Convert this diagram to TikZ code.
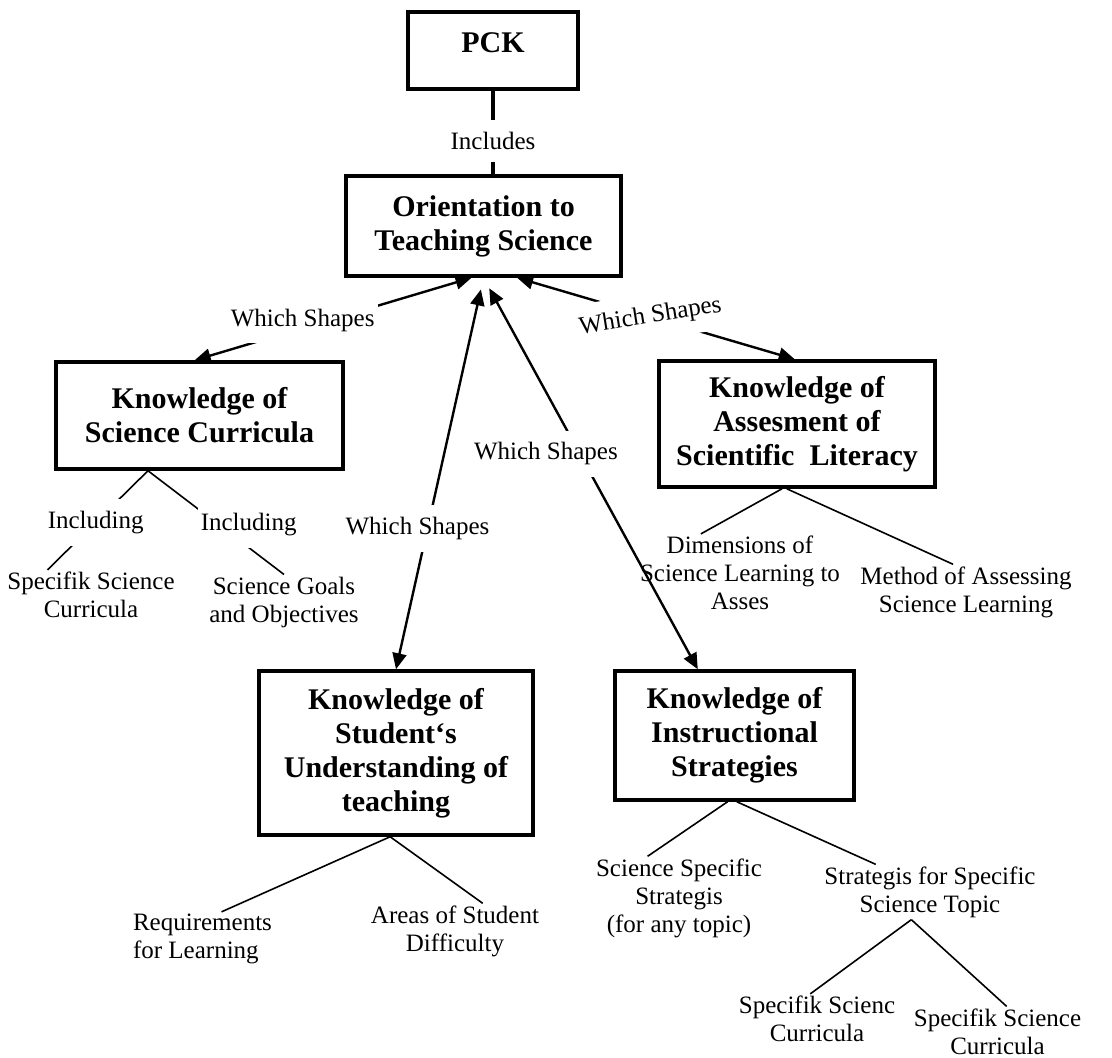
\documentclass[tikz,border=0pt]{standalone}
\usepackage{fontspec}
\setmainfont{Liberation Serif}
\usetikzlibrary{arrows.meta}

\begin{document}
\begin{tikzpicture}[
  x=1pt, y=-1pt,
  font=\fontsize{25}{28}\selectfont,
  concept/.style={
    rectangle, draw=black, line width=3.5pt, fill=white,
    font=\fontsize{30}{34}\selectfont\bfseries, align=center, inner sep=0pt
  },
  leaf/.style={align=center, inner sep=2pt},
  linklabel/.style={fill=white, inner xsep=3pt, inner ysep=12pt},
  shapelink/.style={
    {Triangle[length=16pt,width=14pt]}-{Triangle[length=16pt,width=14pt]},
    line width=2.4pt
  },
  branch/.style={line width=1.6pt},
]

\useasboundingbox (0,0) rectangle (1112,1058);

% Main concept boxes
\node[concept, minimum width=170pt, text height=40pt, text depth=37pt] (pck) at (493,50.5) {PCK};
\node[concept, minimum width=275pt, minimum height=100pt] (orient) at (483.5,226)
  {Orientation to\\Teaching Science};
\node[concept, minimum width=287pt, minimum height=107pt] (curric) at (199.5,415.5)
  {Knowledge of\\Science Curricula};
\node[concept, minimum width=276pt, minimum height=126pt] (assess) at (797,424)
  {Knowledge of\\Assesment of\\Scientific\ \ Literacy};
\node[concept, minimum width=274pt, minimum height=164pt] (student) at (396,753)
  {Knowledge of\\Student‘s\\Understanding of\\teaching};
\node[concept, minimum width=239pt, minimum height=129pt] (instr) at (734.5,735.5)
  {Knowledge of\\Instructional\\Strategies};

% Leaves
\node[leaf] (specA) at (91,595) {Specifik Science\\Curricula};
\node[leaf] (goals) at (284,602) {Science Goals\\and Objectives};
\node[leaf] (dims) at (740,573) {Dimensions of\\Science Learning to\\Asses};
\node[leaf] (method) at (966,592) {Method of Assessing\\Science Learning};
\node[leaf, align=left] (req) at (202.5,939) {Requirements\\for Learning};
\node[leaf] (areas) at (455,931) {Areas of Student\\Difficulty};
\node[leaf] (ssA) at (679,898) {Science Specific\\Strategis\\(for any topic)};
\node[leaf] (topic) at (930,892) {Strategis for Specific\\Science Topic};
\node[leaf] (scA) at (817,1019) {Specifik Scienc\\Curricula};
\node[leaf] (scB) at (997.5,1031.5) {Specifik Science\\Curricula};

% PCK includes the orientation
\draw[line width=3.5pt] (pck.south) -- node[linklabel, pos=0.6] {Includes} (pck.south |- orient.north);

% Which Shapes links
\draw[shapelink] (curric.95) -- node[linklabel, pos=0.39, yshift=8pt] {Which Shapes} (orient.-103);
\draw[shapelink] (orient.-57) -- node[linklabel, pos=0.48, rotate=9] {Which Shapes} (assess.92);
\draw[shapelink, shorten <=12pt] (orient.south) -- node[linklabel, pos=0.64, xshift=-10pt] {Which Shapes} (student.north);
\draw[shapelink, shorten <=12pt] (orient.south) -- node[linklabel, pos=0.45, xshift=-34pt] {Which Shapes} (instr.119);

% Branches to the leaves
\draw[branch] (curric.-133) -- node[linklabel, pos=0.52] {Including} (specA.150);
\draw[branch] (curric.-133) -- node[linklabel, pos=0.52, xshift=30pt] {Including} (goals.north);
\draw[branch] (assess.-103) -- (dims.135);
\draw[branch] (assess.-99) -- (method.115);
\draw[branch] (student.-94) -- (req.55);
\draw[branch] (student.-94) -- (areas.45);
\draw[branch] (instr.-96) -- (ssA.127);
\draw[branch] (instr.-88) -- (topic.153);
\draw[branch] (topic.-124) -- (scA.105);
\draw[branch] (topic.-124) -- (scB.70);

\end{tikzpicture}
\end{document}
